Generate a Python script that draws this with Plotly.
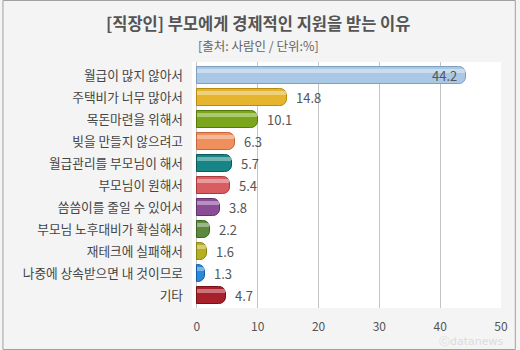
import plotly.graph_objects as go

# Survey data: reasons office workers receive financial support from parents (%)
categories = [
    "월급이 많지 않아서",
    "주택비가 너무 많아서",
    "목돈마련을 위해서",
    "빚을 만들지 않으려고",
    "월급관리를 부모님이 해서",
    "부모님이 원해서",
    "씀씀이를 줄일 수 있어서",
    "부모님 노후대비가 확실해서",
    "재테크에 실패해서",
    "나중에 상속받으면 내 것이므로",
    "기타",
]
values = [44.2, 14.8, 10.1, 6.3, 5.7, 5.4, 3.8, 2.2, 1.6, 1.3, 4.7]
x_ticks = [0, 10, 20, 30, 40, 50]

title_text = "[직장인] 부모에게 경제적인 지원을 받는 이유"
subtitle_text = "[출처: 사람인 / 단위:%]"

bar_colors = ["#a9c8e6", "#e6b52e", "#7ba61c", "#ef8f5c", "#178585", "#d95c60",
              "#8b4c97", "#5c8a3c", "#b8ae22", "#2b8ad6", "#a8202a"]
edge_colors = ["#7f9fbf", "#b78a10", "#557a08", "#c4683a", "#0b5b5b", "#a83a3e",
               "#62306e", "#3c6224", "#8a8410", "#125ea6", "#781018"]

FONT = "Noto Sans CJK KR, sans-serif"
TXT = "#555555"

fig = go.Figure()

# main rounded bars
fig.add_trace(go.Bar(
    y=categories, x=values, orientation="h",
    width=0.76, offset=-0.38,
    marker=dict(color=bar_colors, line=dict(color=edge_colors, width=1), cornerradius=7),
    hoverinfo="skip", showlegend=False,
))
# glossy highlight strip along the top of each bar
fig.add_trace(go.Bar(
    y=categories, x=values, orientation="h",
    width=0.2, offset=-0.3,
    marker=dict(color="rgba(255,255,255,0.38)", line=dict(width=0), cornerradius=4),
    hoverinfo="skip", showlegend=False,
))

# value labels
for cat, v in zip(categories, values):
    inside = v > 30
    fig.add_annotation(
        x=v, y=cat, xref="x", yref="y",
        text=f"{v}", showarrow=False,
        xanchor="right" if inside else "left",
        xshift=-7 if inside else 7,
        font=dict(family=FONT, size=13, color=TXT),
    )

# plot area geometry in pixels (for frame placement)
L, R, T, B = 192, 505, 62, 308
W, H = R - L, B - T

def px_x(p):
    return (p - L) / W

def px_y(p):
    return (B - p) / H

fig.add_annotation(
    x=0.5, y=px_y(23), xref="paper", yref="paper",
    xanchor="center", yanchor="middle", showarrow=False,
    text=f"<b>{title_text}</b>", xshift=260 - (L + W / 2),
    font=dict(family=FONT, size=16.5, color="#555555"),
)
fig.add_annotation(
    x=0.5, y=px_y(45), xref="paper", yref="paper",
    xanchor="center", yanchor="middle", showarrow=False,
    text=subtitle_text, xshift=260 - (L + W / 2),
    font=dict(family=FONT, size=12.5, color="#666666"),
)
fig.add_annotation(
    x=px_x(510), y=px_y(341), xref="paper", yref="paper",
    xanchor="right", yanchor="middle", showarrow=False,
    text="ⓒdatanews",
    font=dict(family="DejaVu Sans, sans-serif", size=11, color="#dcdcdc"),
)

# outer frame
fig.add_shape(
    type="rect", xref="paper", yref="paper",
    x0=px_x(0.5), x1=px_x(519.5), y0=px_y(349.5), y1=px_y(0.5),
    line=dict(color="#a0a0a0", width=1), fillcolor="rgba(0,0,0,0)", layer="below",
)

fig.update_layout(
    width=520, height=350,
    margin=dict(l=L, r=520 - R, t=T, b=350 - B),
    paper_bgcolor="#f4f4f4", plot_bgcolor="#ffffff",
    barmode="overlay", bargap=0,
    font=dict(family=FONT, size=12, color=TXT),
)
fig.update_xaxes(
    range=[-0.81, 50], tickvals=x_ticks, ticktext=[str(t) for t in x_ticks],
    showgrid=True, gridcolor="#c4c4c4", gridwidth=1, zeroline=False,
    showline=False, ticks="", ticklabelstandoff=10,
    tickfont=dict(family=FONT, size=12, color=TXT),
)
fig.update_yaxes(
    categoryorder="array", categoryarray=categories,
    range=[10.56, -0.61], showgrid=False, zeroline=False, showline=False,
    ticks="", ticklabelstandoff=8,
    tickfont=dict(family=FONT, size=12.7, color="#444444"),
)

fig.write_html("out.html")
